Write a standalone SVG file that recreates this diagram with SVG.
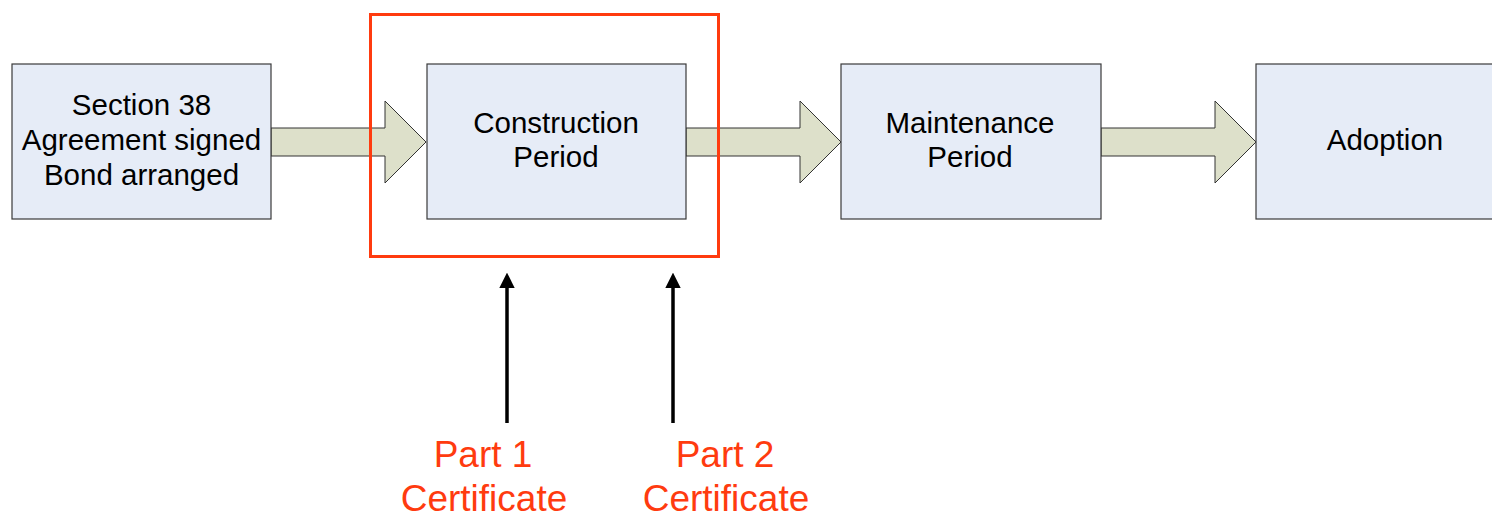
<svg xmlns="http://www.w3.org/2000/svg" width="1492" height="517" viewBox="0 0 1492 517">
<defs>
<style>
.box{fill:#E6ECF7;stroke:#3a3a3a;stroke-width:1.2}
.flow{fill:#DDE0CA;stroke:#333;stroke-width:1}
.t{font-family:"Liberation Sans",Arial,sans-serif;font-size:29.5px;fill:#000;text-anchor:middle}
.r{font-family:"Liberation Sans",Arial,sans-serif;font-size:37px;fill:#FF3B0F;text-anchor:middle}
.ptr{stroke:#000;stroke-width:3.5;fill:none}
</style>
<marker id="ah" markerWidth="4.4" markerHeight="4.4" refX="2" refY="2.2" orient="auto" markerUnits="strokeWidth" viewBox="0 0 4.4 4.4">
<path d="M0,0 L4.4,2.2 L0,4.4 Z" fill="#000"/>
</marker>
</defs>
<rect width="1492" height="517" fill="#fff"/>
<g id="connectors">
<path class="flow" d="M271,128 H385 V101 L426,142 L385,183 V156 H271 Z"/>
<path class="flow" d="M686,128 H800 V101 L841,142 L800,183 V156 H686 Z"/>
<path class="flow" d="M1101,128 H1215 V101 L1256,142 L1215,183 V156 H1101 Z"/>
<line class="ptr" x1="507" y1="423" x2="507" y2="281" marker-end="url(#ah)"/>
<line class="ptr" x1="673" y1="423" x2="673" y2="281" marker-end="url(#ah)"/>
</g>
<g id="n1">
<rect class="box" x="12" y="64" width="259" height="155"/>
<text class="t" x="141.5" y="115">Section 38</text>
<text class="t" x="141.5" y="150">Agreement signed</text>
<text class="t" x="141.5" y="185">Bond arranged</text>
</g>
<g id="n2">
<rect class="box" x="427" y="64" width="259" height="155"/>
<text class="t" x="556" y="133">Construction</text>
<text class="t" x="556" y="167">Period</text>
</g>
<g id="n3">
<rect class="box" x="841" y="64" width="260" height="155"/>
<text class="t" x="970" y="133">Maintenance</text>
<text class="t" x="970" y="167">Period</text>
</g>
<g id="n4">
<rect class="box" x="1256" y="64" width="259" height="155"/>
<text class="t" x="1385" y="150">Adoption</text>
</g>
<g id="highlight">
<rect x="370.5" y="14.5" width="348" height="242" fill="none" stroke="#FF3B0F" stroke-width="3"/>
</g>
<g id="labels">
<text class="r" x="483" y="467">Part 1</text>
<text class="r" x="484" y="511">Certificate</text>
<text class="r" x="725" y="467">Part 2</text>
<text class="r" x="726" y="511">Certificate</text>
</g>
</svg>
